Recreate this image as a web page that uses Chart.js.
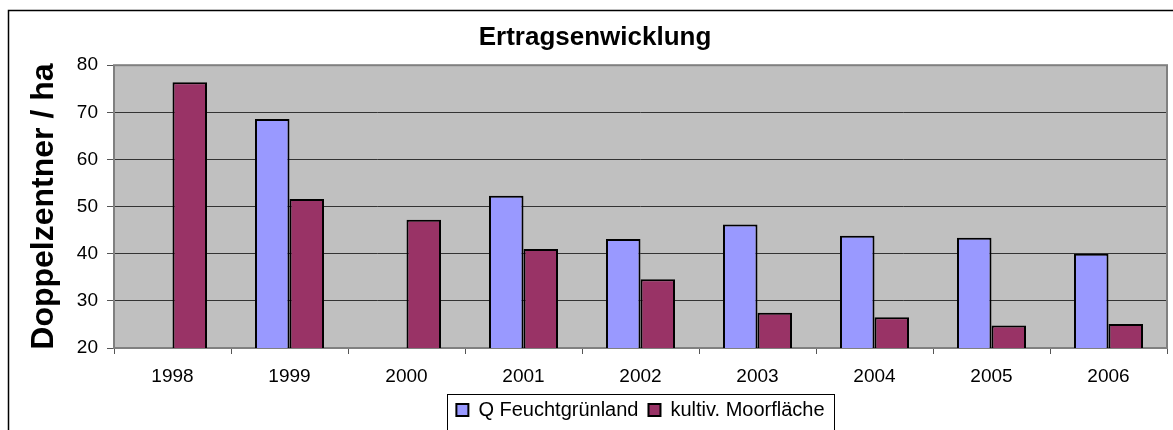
<!DOCTYPE html>
<html>
<head>
<meta charset="utf-8">
<script src="https://cdn.jsdelivr.net/npm/chart.js@4/dist/chart.umd.min.js"></script>
<style>
html,body{margin:0;padding:0;background:#fff;}
#wrap{width:1173px;height:430px;position:relative;}
</style>
</head>
<body>
<div id="wrap"><canvas id="c" width="1173" height="430"></canvas></div>
<script>
// ---- data ----
const years = ['1998','1999','2000','2001','2002','2003','2004','2005','2006'];
const feuchtgruenland = [null, 68.6, null, 52.3, 43.1, 46.2, 43.8, 43.4, 40.0];
const moorflaeche = [76.4, 51.6, 47.2, 41.0, 34.6, 27.5, 26.5, 24.8, 25.1];
const seriesNames = ['Q Feuchtgrünland', 'kultiv. Moorfläche'];
const yMin = 20, yMax = 80, yStep = 10;
const chartTitle = 'Ertragsenwicklung';
const yTitle = 'Doppelzentner / ha';

const FONT = "'Liberation Sans', Arial, Helvetica, sans-serif";

const framePlugin = {
  id: 'frame',
  beforeDraw(chart) {
    const {ctx, chartArea: a} = chart;
    ctx.save();
    ctx.fillStyle = '#ffffff';
    ctx.fillRect(0, 0, chart.width, chart.height);
    ctx.strokeStyle = '#000000';
    ctx.lineWidth = 1.5;
    ctx.strokeRect(8.5, 10.5, chart.width + 20, chart.height + 20);
    ctx.fillStyle = '#C0C0C0';
    ctx.fillRect(a.left, a.top, a.right - a.left, a.bottom - a.top);
    ctx.restore();
  },
  beforeDatasetsDraw(chart) {
    const {ctx, chartArea: a} = chart;
    ctx.save();
    ctx.strokeStyle = '#808080';
    ctx.lineWidth = 2;
    ctx.strokeRect(a.left, a.top, a.right - a.left, a.bottom - a.top);
    ctx.restore();
  },
  afterDraw(chart) {
    const lg = chart.legend;
    if (!lg || !lg.legendHitBoxes || !lg.legendHitBoxes.length) return;
    const hb = lg.legendHitBoxes;
    const first = hb[0], last = hb[hb.length - 1];
    const ctx = chart.ctx;
    ctx.save();
    ctx.strokeStyle = '#000000';
    ctx.lineWidth = 1;
    const x0 = Math.round(first.left - 9) + 0.5;
    const x1 = Math.round(last.left + last.width + 9) + 0.5;
    const y0 = Math.round(lg.top + 4) + 0.5;
    ctx.strokeRect(x0, y0, x1 - x0, chart.height + 10 - y0);
    ctx.restore();
  }
};

new Chart(document.getElementById('c'), {
  type: 'bar',
  data: {
    labels: years,
    datasets: [
      {
        label: seriesNames[0],
        data: feuchtgruenland,
        backgroundColor: '#9999FF',
        borderColor: '#000000',
        borderWidth: 2
      },
      {
        label: seriesNames[1],
        data: moorflaeche,
        backgroundColor: '#993366',
        borderColor: '#000000',
        borderWidth: 2
      }
    ]
  },
  options: {
    responsive: false,
    animation: false,
    devicePixelRatio: 1,
    layout: { padding: { left: 23, right: 6, top: 0, bottom: 0 } },
    datasets: { bar: { categoryPercentage: 0.59, barPercentage: 1.0 } },
    plugins: {
      title: {
        display: true,
        text: chartTitle,
        color: '#000000',
        font: { family: FONT, size: 26, weight: 'bold' },
        padding: { top: 22, bottom: 12 }
      },
      legend: {
        display: true,
        position: 'bottom',
        fullSize: false,
        labels: {
          color: '#000000',
          font: { family: FONT, size: 20 },
          boxWidth: 12,
          boxHeight: 12,
          padding: 10
        }
      },
      tooltip: { enabled: false }
    },
    scales: {
      x: {
        afterFit(s) { s.height = 42; },
        grid: {
          display: true,
          drawOnChartArea: false,
          drawTicks: true,
          tickLength: 6,
          color: '#555555',
          offset: true
        },
        border: { display: false },
        ticks: {
          color: '#000000',
          font: { family: FONT, size: 19 },
          padding: 11,
          maxRotation: 0
        }
      },
      y: {
        min: yMin,
        max: yMax,
        afterFit(s) { s.width = 91; },
        ticks: {
          stepSize: yStep,
          color: '#000000',
          font: { family: FONT, size: 19 },
          padding: 9
        },
        grid: {
          color: '#333333',
          tickColor: '#555555',
          tickLength: 7,
          lineWidth: 1
        },
        border: { display: false },
        title: {
          display: true,
          text: yTitle,
          color: '#000000',
          font: { family: FONT, size: 32, weight: 'bold' },
          padding: { top: 2, bottom: 0 }
        }
      }
    }
  },
  plugins: [framePlugin]
});
</script>
</body>
</html>
